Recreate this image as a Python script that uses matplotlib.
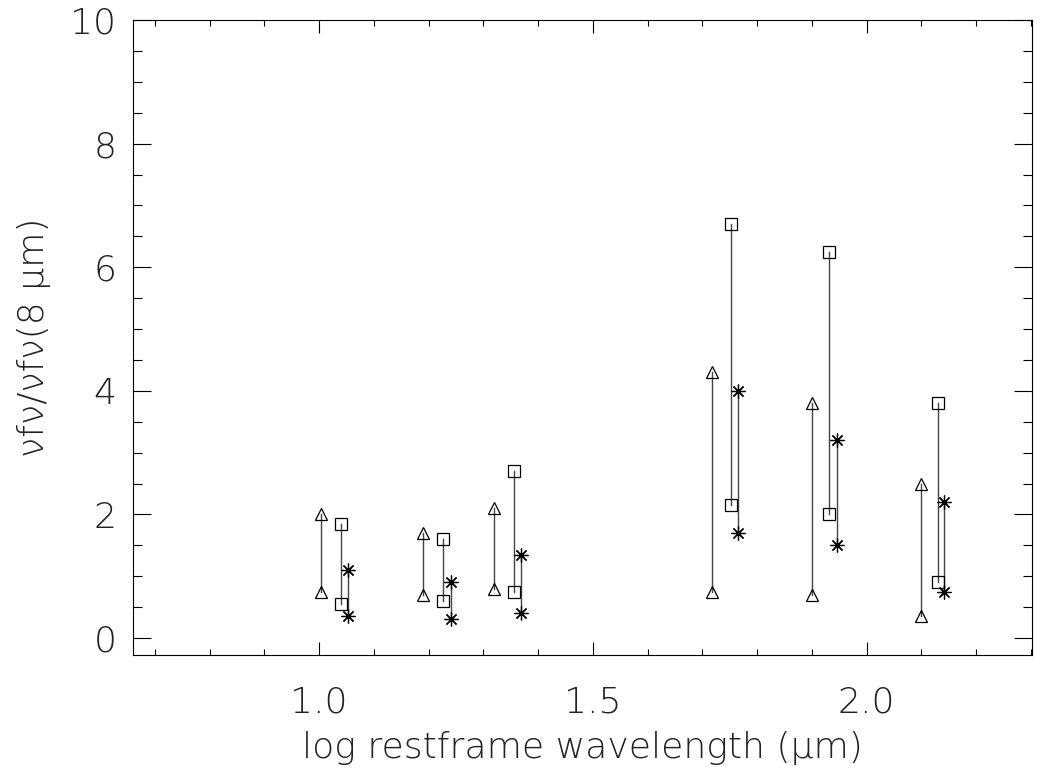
import matplotlib
matplotlib.use('Agg')
import matplotlib.pyplot as plt
from matplotlib.ticker import MultipleLocator

# log restframe wavelength of each group, one offset per symbol type
x_tri = [1.004, 1.19, 1.32, 1.717, 1.901, 2.099]
x_sq = [1.04, 1.226, 1.356, 1.752, 1.932, 2.13]
x_ast = [1.053, 1.24, 1.369, 1.765, 1.945, 2.142]

# ratio range (low, high) for each symbol type
tri_lo = [0.75, 0.7, 0.8, 0.75, 0.7, 0.35]
tri_hi = [2.0, 1.7, 2.1, 4.3, 3.8, 2.5]
sq_lo = [0.55, 0.6, 0.75, 2.15, 2.0, 0.9]
sq_hi = [1.85, 1.6, 2.7, 6.7, 6.25, 3.8]
ast_lo = [0.35, 0.3, 0.4, 1.7, 1.5, 0.75]
ast_hi = [1.1, 0.9, 1.35, 4.0, 3.2, 2.2]

xticks = [1.0, 1.5, 2.0]
xticklabels = ['1.0', '1.5', '2.0']
yticks = [0, 2, 4, 6, 8, 10]

fig = plt.figure(figsize=(10.43, 7.73), dpi=100)
ax = fig.add_axes([0.1275, 0.1527, 0.862, 0.8213])

ASTERISK = (8, 2, 0)
series = [
    (x_tri, tri_lo, tri_hi, '^'),
    (x_sq, sq_lo, sq_hi, 's'),
    (x_ast, ast_lo, ast_hi, ASTERISK),
]
for xs, lo, hi, mk in series:
    for x, a, b in zip(xs, lo, hi):
        ax.plot([x, x], [a, b], color='#444444', lw=1.0, zorder=1)
    ms = 9 if mk != ASTERISK else 10
    ax.plot(xs, lo, ls='none', marker=mk, ms=ms, mfc='none', mec='black', mew=0.9, zorder=2)
    ax.plot(xs, hi, ls='none', marker=mk, ms=ms, mfc='none', mec='black', mew=0.9, zorder=2)

ax.set_xlim(0.66, 2.302)
ax.set_ylim(-0.275, 10.0)

ax.set_xticks(xticks)
ax.set_xticklabels(xticklabels)
ax.set_yticks(yticks)
ax.xaxis.set_minor_locator(MultipleLocator(0.1))
ax.yaxis.set_minor_locator(MultipleLocator(0.5))

ax.tick_params(axis='both', which='both', direction='in', top=True, right=True,
               width=0.8, colors='black', labelsize=26)
ax.tick_params(axis='x', which='major', length=9.1, pad=22)
ax.tick_params(axis='x', which='minor', length=4.6)
ax.tick_params(axis='y', which='major', length=13, pad=12)
ax.tick_params(axis='y', which='minor', length=6.5)
for lab in ax.get_xticklabels() + ax.get_yticklabels():
    lab.set_fontweight('light')
    lab.set_color('#222222')

for sp in ax.spines.values():
    sp.set_linewidth(0.8)

ax.set_xlabel('log restframe wavelength (\u03bcm)', fontsize=26, fontweight='light',
              color='#222222', labelpad=8)
ax.set_ylabel('\u03bdf\u03bd/\u03bdf\u03bd(8 \u03bcm)', fontsize=26, fontweight='light',
              color='#222222', labelpad=14)

fig.savefig('out.png', dpi=100)
